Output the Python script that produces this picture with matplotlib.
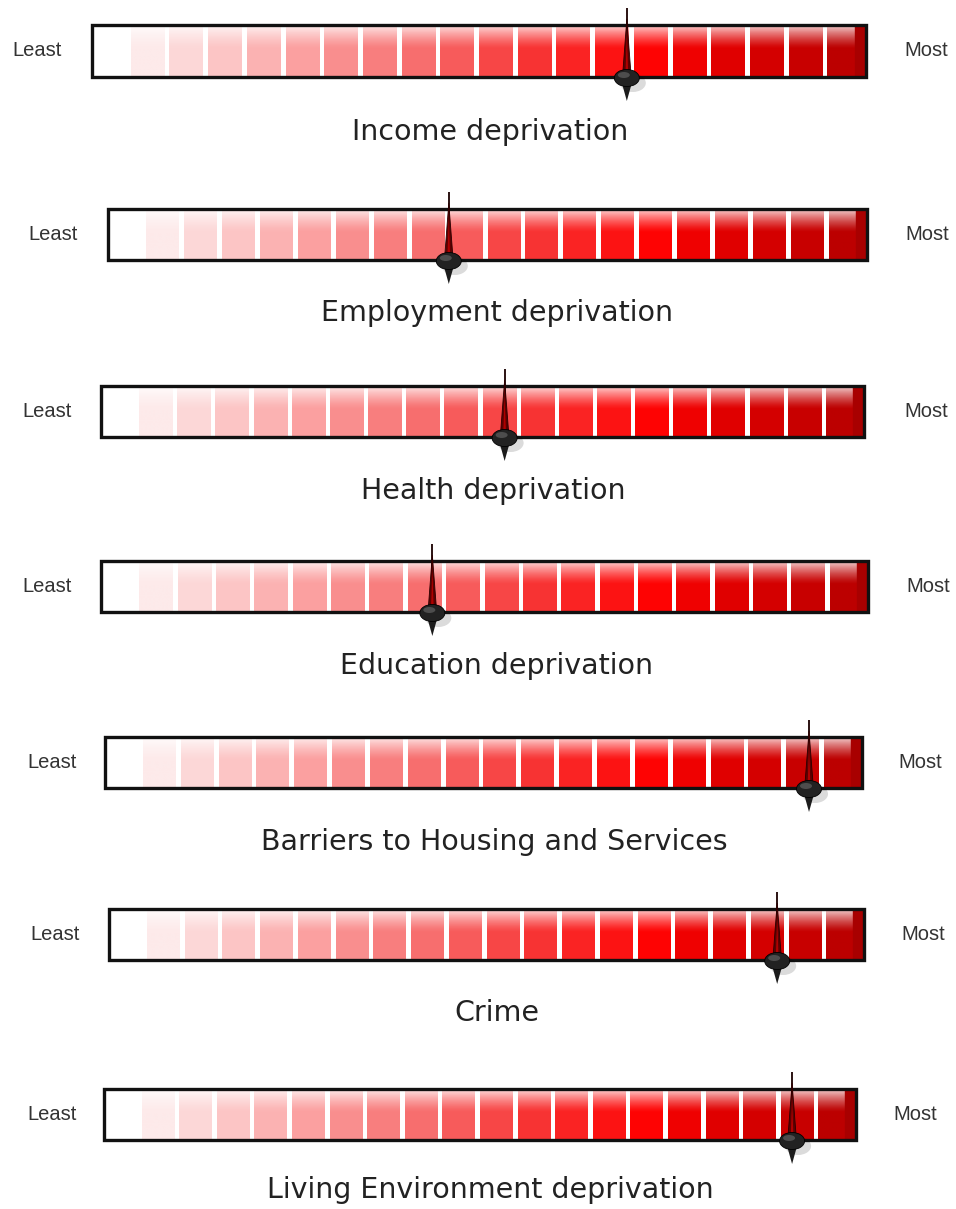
import numpy as np
import matplotlib
matplotlib.use("Agg")
import matplotlib.pyplot as plt
from matplotlib.colors import LinearSegmentedColormap, to_rgb
from matplotlib.patches import Rectangle, Polygon, Ellipse

# deprivation domains and where each needle sits (0 = least, 1 = most deprived)
titles = ["Income deprivation", "Employment deprivation", "Health deprivation",
          "Education deprivation", "Barriers to Housing and Services", "Crime",
          "Living Environment deprivation"]
scores = [0.691, 0.449, 0.529, 0.432, 0.930, 0.885, 0.915]
low_label = "Least"
high_label = "Most"

# gauge boxes in pixels: left, right, top, bottom
boxes = [(92, 866, 25, 77), (108, 867, 209, 260), (101, 864, 386, 437),
         (101, 868, 561, 612), (105, 862, 737, 788), (109, 864, 909, 960),
         (104, 856, 1089, 1140)]
least_x = [37, 53, 47, 47, 52, 55, 52]
most_x = [926, 927, 926, 928, 920, 923, 915]
title_pos = [(490, 132), (497, 313), (493, 491), (496, 666), (494, 842),
             (497, 1013), (490, 1190)]

W, H = 956, 1209
NSLOT = 20
GAP_PX = 5

plt.rcParams['font.family'] = ['Liberation Sans', 'DejaVu Sans']

scale = LinearSegmentedColormap.from_list("reds", [
    (0.00, "#fdeaea"), (0.22, "#fba0a0"), (0.39, "#f76e6e"),
    (0.56, "#f83232"), (0.72, "#ff0404"), (0.83, "#e20000"),
    (1.00, "#bc0000")])


def segment_image(color, n=60):
    # glossy vertical shading: pale top fading into the full colour
    c = np.array(to_rgb(color))
    y = np.linspace(0, 1, n)
    img = np.zeros((n, 1, 3))
    for i, t in enumerate(y):
        if t < 0.45:
            w = 0.8 * (1 - t / 0.45) ** 1.3
            img[i, 0] = c * (1 - w) + w
        else:
            img[i, 0] = c
    return img


def draw_gauge(ax, value, wpx, hpx):
    ax.set_xlim(0, 1)
    ax.set_ylim(0, 1)
    ax.axis("off")
    gap = GAP_PX / wpx
    for k in range(1, NSLOT):
        x0 = k / NSLOT
        x1 = (k + 1) / NSLOT - gap if k < NSLOT - 1 else 1.0
        col = scale((k - 1) / (NSLOT - 2))
        ax.imshow(segment_image(col), extent=(x0, x1, 0, 1), aspect="auto",
                  interpolation="bilinear", zorder=1)
    # dark end cap on the right
    ax.add_patch(Rectangle((1 - 11 / wpx, 0), 11 / wpx, 1, color="#a80000", zorder=2))
    ax.set_xlim(0, 1)
    ax.set_ylim(0, 1)
    ax.add_patch(Rectangle((0, 0), 1, 1, fill=False, ec="#111111", lw=2.4,
                           zorder=3, clip_on=False))

    # needle
    hw = 4.5 / wpx
    py = 1 / hpx
    ax.plot([value, value], [0.6, 1 + 17 * py], color="#1a0000", lw=1.3,
            zorder=4, clip_on=False, solid_capstyle="butt")
    ax.add_patch(Polygon([(value - hw, -2 * py), (value, 1 + 6 * py),
                          (value + hw, -2 * py)], closed=True,
                         fc="#5c0000", ec="#2a0000", lw=0.6, zorder=5, clip_on=False))
    ax.add_patch(Polygon([(value - hw * 0.35, -2 * py), (value, 0.8),
                          (value + hw * 0.35, -2 * py)], closed=True,
                         fc="#b00000", ec="none", zorder=5, clip_on=False))
    # shadow, knob and lower tip
    ax.add_patch(Ellipse((value + 6 / wpx, -6 * py), 26 / wpx, 18 * py,
                         fc="#000000", alpha=0.14, ec="none", zorder=5, clip_on=False))
    ax.add_patch(Polygon([(value - 5 / wpx, -6 * py), (value, -24 * py),
                          (value + 5 / wpx, -6 * py)], closed=True,
                         fc="#1c1c1c", ec="none", zorder=6, clip_on=False))
    ax.add_patch(Ellipse((value, -1 * py), 25 / wpx, 17 * py,
                         fc="#222222", ec="#000000", lw=0.6, zorder=7, clip_on=False))
    ax.add_patch(Ellipse((value - 3 / wpx, 2 * py), 12 / wpx, 6 * py,
                         fc="#6a6a6a", ec="none", alpha=0.6, zorder=8, clip_on=False))


fig = plt.figure(figsize=(W / 100, H / 100), dpi=100)

for i in range(len(titles)):
    x0, x1, top, bot = boxes[i]
    ax = fig.add_axes([x0 / W, 1 - bot / H, (x1 - x0) / W, (bot - top) / H])
    draw_gauge(ax, scores[i], x1 - x0, bot - top)
    ymid = 1 - (top + bot) / 2 / H
    fig.text(least_x[i] / W, ymid, low_label, ha="center", va="center",
             fontsize=14.5, color="#333333")
    fig.text(most_x[i] / W, ymid, high_label, ha="center", va="center",
             fontsize=14.5, color="#333333")
    tx, ty = title_pos[i]
    fig.text(tx / W, 1 - ty / H, titles[i], ha="center", va="center",
             fontsize=20.5, color="#222222", family=["DejaVu Sans"])

fig.savefig("out.png", dpi=100)
